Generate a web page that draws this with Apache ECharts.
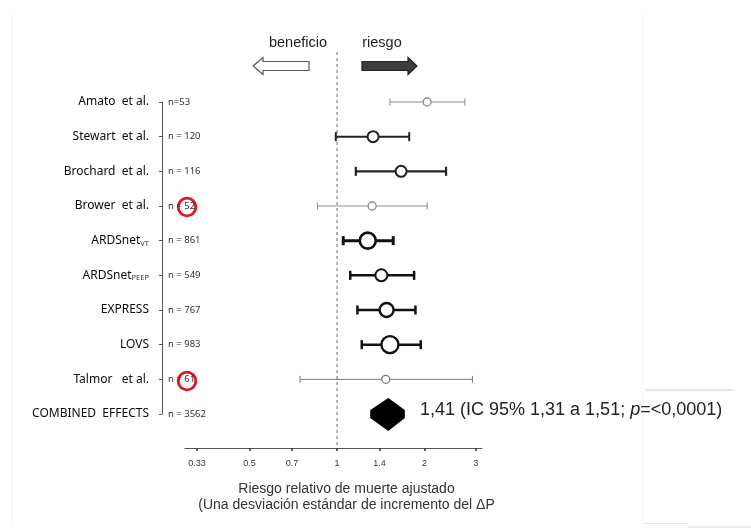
<!DOCTYPE html>
<html>
<head>
<meta charset="utf-8">
<script src="https://cdn.jsdelivr.net/npm/echarts@6/dist/echarts.min.js"></script>
<style>
html,body{margin:0;padding:0;background:#fff;}
#chart{width:751px;height:529px;}
</style>
</head>
<body>
<div id="chart"></div>
<script>
// ---- data ----
const studies = ['Amato  et al.', 'Stewart  et al.', 'Brochard  et al.', 'Brower  et al.', 'ARDSnet{sub|VT}', 'ARDSnet{sub|PEEP}', 'EXPRESS', 'LOVS', 'Talmor   et al.', 'COMBINED  EFFECTS'];
const nLabels = ['n=53', 'n = 120', 'n = 116', 'n = 52', 'n = 861', 'n = 549', 'n = 767', 'n = 983', 'n = 61', 'n = 3562'];
const estimate = [2.04, 1.33, 1.66, 1.32, 1.275, 1.42, 1.48, 1.52, 1.47];
const ciLower  = [1.52, 0.99, 1.16, 0.856, 1.05, 1.11, 1.175, 1.216, 0.746];
const ciUpper  = [2.75, 1.77, 2.37, 2.04, 1.56, 1.84, 1.86, 1.94, 2.92];
const combined = { est: 1.50, lo: 1.30, hi: 1.71 };
const xTicks = [0.33, 0.5, 0.7, 1, 1.4, 2, 3];
const annotation = '1,41 (IC 95% 1,31 a 1,51; {i|p}=<0,0001)';

// ---- styles (per row) ----
const markerSize = [8, 11, 11, 8, 16, 12, 14, 17, 8];
const lineWidth  = [1, 2, 2.2, 1, 3, 2.5, 2.5, 2.5, 1];
const lineColor  = ['#8a8a8a', '#222', '#222', '#8a8a8a', '#111', '#111', '#111', '#111', '#777'];
const markerBorder = [1.3, 2, 2, 1.3, 2.6, 2, 2.4, 2.4, 1.3];

const chart = echarts.init(document.getElementById('chart'), null, {renderer: 'canvas'});

const ciData = estimate.map((e, i) => [ciLower[i], ciUpper[i], i]);
const ptData = estimate.map((e, i) => ({
  value: [e, i],
  symbolSize: markerSize[i],
  itemStyle: { color: '#fff', borderColor: lineColor[i], borderWidth: markerBorder[i], opacity: 1 }
}));

const option = {
  animation: false,
  backgroundColor: '#fff',
  grid: { left: 185, right: 269, top: 102, bottom: 115 },
  xAxis: {
    type: 'log',
    min: 0.3, max: 3.15,
    offset: 34,
    axisLine: { show: true, lineStyle: { color: '#555', width: 1 } },
    axisTick: { show: true, customValues: xTicks, length: 3, lineStyle: { color: '#333', width: 1.5 } },
    axisLabel: { customValues: xTicks, fontSize: 9, color: '#333', margin: 11, fontFamily: 'Liberation Sans',
      formatter: v => String(Math.round(v * 100) / 100) },
    splitLine: { show: false },
    minorTick: { show: false },
    name: 'Riesgo relativo de muerte ajustado\n(Una desviación estándar de incremento del ΔP',
    nameLocation: 'middle',
    nameGap: 33,
    nameTextStyle: { fontSize: 14, color: '#333', fontFamily: 'Liberation Sans', lineHeight: 16,
      verticalAlign: 'top', padding: [0, 0, 0, 26] }
  },
  yAxis: [{
    type: 'category',
    data: studies,
    inverse: true,
    boundaryGap: false,
    position: 'left',
    offset: 23,
    axisLine: { show: true, lineStyle: { color: '#555', width: 1 } },
    axisTick: { show: true, length: 3, alignWithLabel: true, lineStyle: { color: '#555' } },
    axisLabel: {
      margin: 13, fontSize: 12, color: '#0a0a0a', fontFamily: 'Noto Sans',
      rich: { sub: { fontSize: 7.5, color: '#333', fontFamily: 'Noto Sans', verticalAlign: 'bottom', padding: [6, 0, 0, 0] } }
    },
    splitLine: { show: false }
  }, {
    type: 'category',
    data: nLabels,
    inverse: true,
    boundaryGap: false,
    position: 'right',
    offset: -320,
    axisLine: { show: false },
    axisTick: { show: false },
    axisLabel: { margin: 6, fontSize: 9.5, color: '#352c42', fontFamily: 'Noto Sans', align: 'left' },
    splitLine: { show: false }
  }],
  series: [
    {
      type: 'custom',
      name: 'ref',
      clip: false,
      silent: true,
      data: [[1, 0]],
      encode: { x: 0, y: 1 },
      renderItem: (params, api) => {
        const p = api.coord([api.value(0), 0]);
        const cs = params.coordSys;
        return {
          type: 'line',
          shape: { x1: p[0], y1: p[1] - 50, x2: p[0], y2: cs.y + cs.height + 34 },
          style: { stroke: '#666', lineWidth: 1, lineDash: [3, 3] }
        };
      }
    },
    {
      type: 'custom',
      name: 'CI',
      clip: false,
      data: ciData,
      encode: { x: [0, 1], y: 2 },
      renderItem: (params, api) => {
        const i = params.dataIndex;
        const a = api.coord([api.value(0), api.value(2)]);
        const b = api.coord([api.value(1), api.value(2)]);
        const lw = lineWidth[i];
        const h = lw > 1.5 ? 4.5 : 3.5;
        const st = { stroke: lineColor[i], lineWidth: lw };
        return {
          type: 'group',
          children: [
            { type: 'line', shape: { x1: a[0], y1: a[1], x2: b[0], y2: b[1] }, style: st },
            { type: 'line', shape: { x1: a[0], y1: a[1] - h, x2: a[0], y2: a[1] + h }, style: st },
            { type: 'line', shape: { x1: b[0], y1: b[1] - h, x2: b[0], y2: b[1] + h }, style: st }
          ]
        };
      }
    },
    {
      type: 'scatter',
      name: 'est',
      data: ptData,
      symbol: 'circle',
      z: 5
    },
    {
      type: 'custom',
      name: 'combined',
      clip: false,
      data: [[combined.lo, combined.hi, combined.est, 9]],
      encode: { x: [0, 1, 2], y: 3 },
      renderItem: (params, api) => {
        const l = api.coord([api.value(0), api.value(3)]);
        const r = api.coord([api.value(1), api.value(3)]);
        const c = api.coord([api.value(2), api.value(3)]);
        const y = c[1];
        return {
          type: 'polygon',
          shape: { points: [[l[0], y - 4], [c[0], y - 16], [r[0], y - 4], [r[0], y + 4], [c[0], y + 17], [l[0], y + 4]] },
          style: { fill: '#000' }
        };
      }
    }
  ],
  graphic: [
    // faint page frame lines
    { type: 'line', shape: { x1: 12, y1: 14, x2: 12, y2: 527 }, style: { stroke: '#f3f3f3', lineWidth: 1 }, silent: true },
    { type: 'line', shape: { x1: 643, y1: 13, x2: 643, y2: 523 }, style: { stroke: '#f5f5f5', lineWidth: 1 }, silent: true },
    { type: 'line', shape: { x1: 645, y1: 390, x2: 734, y2: 390 }, style: { stroke: '#cfcfcf', lineWidth: 1 }, silent: true },
    { type: 'line', shape: { x1: 643, y1: 523.5, x2: 688, y2: 523.5 }, style: { stroke: '#e6e6e6', lineWidth: 1 }, silent: true },
    { type: 'line', shape: { x1: 688, y1: 527, x2: 751, y2: 527 }, style: { stroke: '#d8d8d8', lineWidth: 1 }, silent: true },
    // direction labels
    { type: 'text', x: 298, y: 43, style: { text: 'beneficio', fontSize: 14.5, fill: '#222', fontFamily: 'Liberation Sans', align: 'center', verticalAlign: 'middle' } },
    { type: 'text', x: 382, y: 43, style: { text: 'riesgo', fontSize: 14.5, fill: '#222', fontFamily: 'Liberation Sans', align: 'center', verticalAlign: 'middle' } },
    // arrows
    { type: 'polygon', shape: { points: [[253, 66], [263, 57.5], [263, 61.5], [309, 61.5], [309, 70.5], [263, 70.5], [263, 74.5]] },
      style: { fill: '#fff', stroke: '#555', lineWidth: 1.2 } },
    { type: 'polygon', shape: { points: [[417, 66], [408, 57.5], [408, 61.5], [362, 61.5], [362, 70.5], [408, 70.5], [408, 74.5]] },
      style: { fill: '#3d3d3d', stroke: '#222', lineWidth: 1.2 } },
    // red circles
    { type: 'circle', shape: { cx: 187, cy: 207, r: 8.8 }, style: { fill: 'none', stroke: '#e3141b', lineWidth: 2.8 } },
    { type: 'circle', shape: { cx: 187, cy: 381, r: 8.8 }, style: { fill: 'none', stroke: '#e3141b', lineWidth: 2.8 } },
    // annotation
    { type: 'text', x: 420, y: 410, style: { text: annotation, fontSize: 18, fill: '#222', fontFamily: 'Liberation Sans', verticalAlign: 'middle',
        rich: { i: { fontSize: 18, fontStyle: 'italic', fill: '#222', fontFamily: 'Liberation Sans' } } } }
  ]
};
chart.setOption(option);
</script>
</body>
</html>
